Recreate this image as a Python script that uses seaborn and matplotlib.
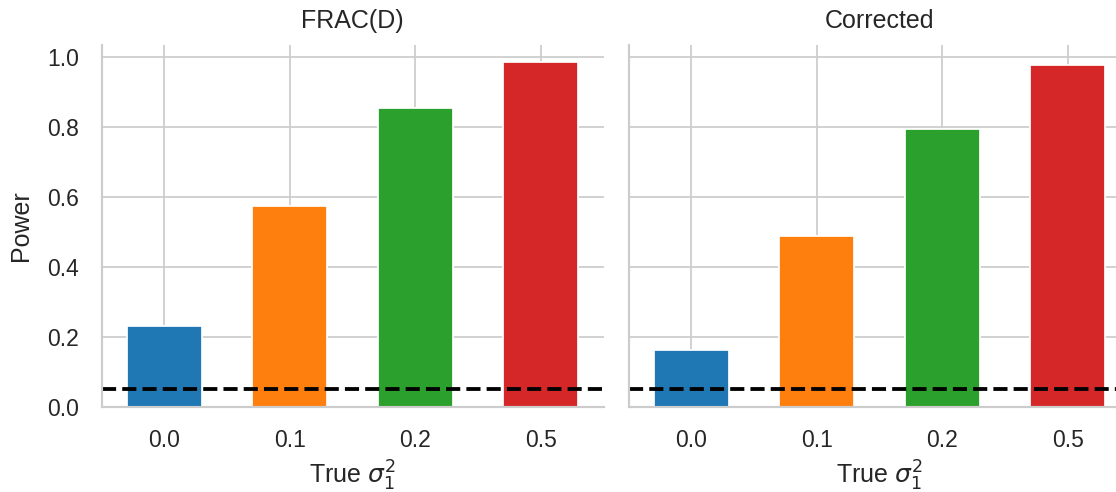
import numpy as np
import pandas as pd
import matplotlib
matplotlib.use("Agg")
import matplotlib.pyplot as plt
import seaborn as sns

# Simulated power for each true variance component, by test method
methods = ["FRAC(D)", "Corrected"]
sigma_levels = ["0.0", "0.1", "0.2", "0.5"]
power_frac = [0.231, 0.574, 0.856, 0.986]
power_corrected = [0.163, 0.489, 0.794, 0.979]
alpha_level = 0.05

df = pd.DataFrame({
    "method": np.repeat(methods, len(sigma_levels)),
    "sigma": sigma_levels * len(methods),
    "power": power_frac + power_corrected,
})

sns.set_theme(style="whitegrid", context="notebook", font_scale=1.2)
plt.rcParams["font.family"] = ["Liberation Sans", "DejaVu Sans"]
plt.rcParams.update({
    "xtick.major.size": 0, "ytick.major.size": 0,
    "xtick.major.pad": 13, "ytick.major.pad": 13,
    "grid.linewidth": 1.0, "axes.linewidth": 1.25,
})

g = sns.catplot(
    data=df, x="sigma", y="power", hue="sigma", col="method",
    kind="bar", palette="tab10", saturation=1, width=0.6, legend=False,
    order=sigma_levels, hue_order=sigma_levels, col_order=methods,
    height=3.6, aspect=1.1, sharey=True,
)
g.set_titles("{col_name}", pad=10)
g.set_axis_labels(r"True $\sigma_1^2$", "Power")
g.axes.flat[0].yaxis.labelpad = 8
for ax in g.axes.flat:
    ax.xaxis.grid(True)
    ax.set_axisbelow(True)
    ax.axhline(alpha_level, color="black", linestyle="--", linewidth=2.2)

fig = g.figure
fig.set_size_inches(1116 / 125, 492 / 125)
W, H = 1116, 492
ax_w, ax_h = 502, 361.7
bottom = (H - 406.7) / H
g.axes.flat[0].set_position([101.5 / W, bottom, ax_w / W, ax_h / H])
g.axes.flat[1].set_position([628.5 / W, bottom, ax_w / W, ax_h / H])

fig.savefig("out.png", dpi=125)
